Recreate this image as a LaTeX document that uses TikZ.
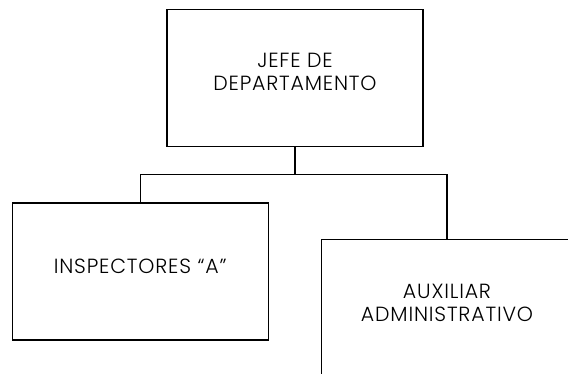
\documentclass[tikz,border=0pt]{standalone}
\usepackage{fontspec}
\setmainfont{Poppins}[UprightFont=* Light, LetterSpace=4]
\usepackage{tikz}
\tikzset{cargo/.style={draw=black, line width=1.2pt, fill=white,
                       minimum width=256pt, minimum height=137pt},
         rotulo/.style={align=center, yshift=5.5pt,
                        font=\fontsize{20.5}{23}\selectfont}}

\begin{document}
\begin{tikzpicture}[x=1pt, y=1pt]
    \useasboundingbox (0,0) rectangle (568,374);
    \node [cargo, label={[rotulo]center:JEFE DE\\DEPARTAMENTO}] (jefe) at (295,296.3) {};
    \node [cargo, label={[rotulo]center:INSPECTORES “A”}] (insp) at (140.2,102.5) {};
    \node [cargo, minimum width=251pt,
           label={[rotulo]center:AUXILIAR\\ADMINISTRATIVO}] (aux) at (447,65.8) {};
    \coordinate (rama) at (295,199.5);
    \draw [line width=1.2pt] (jefe) -- (rama) -| (insp.north);
    \draw [line width=1.2pt] (rama) -| (aux.north);
\end{tikzpicture}
\end{document}
